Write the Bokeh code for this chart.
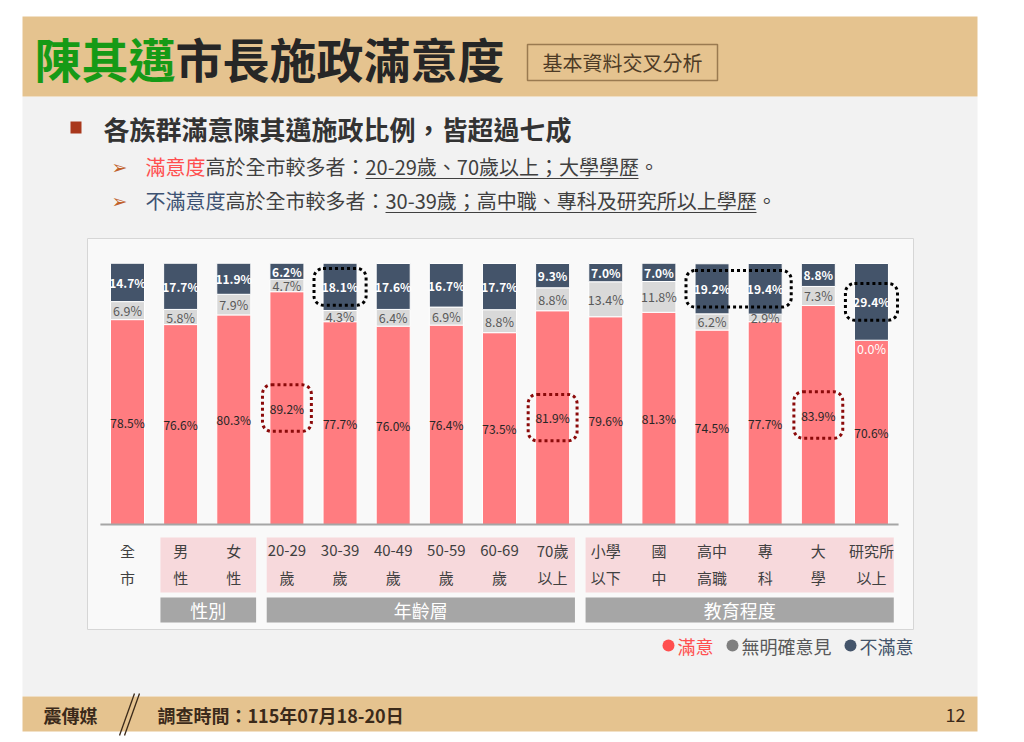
from bokeh.plotting import figure
from bokeh.models import Range1d, BoxAnnotation
from bokeh.core.properties import value
from bokeh.embed import file_html
from bokeh.resources import INLINE

# ---------------- data ----------------
categories = ["全市", "男性", "女性", "20-29歲", "30-39歲", "40-49歲", "50-59歲", "60-69歲",
              "70歲以上", "小學以下", "國中", "高中高職", "專科", "大學", "研究所以上"]
label_top = ["全", "男", "女", "20-29", "30-39", "40-49", "50-59", "60-69", "70歲",
             "小學", "國", "高中", "專", "大", "研究所"]
label_bottom = ["市", "性", "性", "歲", "歲", "歲", "歲", "歲", "以上",
                "以下", "中", "高職", "科", "學", "以上"]
satisfied = [78.5, 76.6, 80.3, 89.2, 77.7, 76.0, 76.4, 73.5, 81.9, 79.6, 81.3, 74.5, 77.7, 83.9, 70.6]
no_opinion = [6.9, 5.8, 7.9, 4.7, 4.3, 6.4, 6.9, 8.8, 8.8, 13.4, 11.8, 6.2, 2.9, 7.3, 0.0]
dissatisfied = [14.7, 17.7, 11.9, 6.2, 18.1, 17.6, 16.7, 17.7, 9.3, 7.0, 7.0, 19.2, 19.4, 8.8, 29.4]
series_names = ["滿意", "無明確意見", "不滿意"]
groups = ["性別", "年齡層", "教育程度"]
group_first = [1, 3, 9]
group_last = [2, 8, 14]
# highlighted (dotted) segments: first bar, last bar, series index
hl_first = [3, 4, 8, 11, 13, 14]
hl_last = [3, 4, 8, 12, 13, 14]
hl_series = [0, 2, 0, 2, 0, 2]

title_green = "陳其邁"
title_rest = "市長施政滿意度"
tag_text = "基本資料交叉分析"
headline = "各族群滿意陳其邁施政比例，皆超過七成"
b1_key, b1_rest = "滿意度", "高於全市較多者：20-29歲、70歲以上；大學學歷。"
b2_key, b2_rest = "不滿意度", "高於全市較多者：30-39歲；高中職、專科及研究所以上學歷。"
footer_brand = "震傳媒"
footer_date = "調查時間：115年07月18-20日"
page_no = "12"

# ---------------- style ----------------
FONT = value("Noto Sans CJK TC")
C_SAT, C_NO, C_DIS = "#ff7c80", "#d9d9d9", "#44546a"
LEG_COLORS = ["#ff4f4f", "#7f7f7f", "#44546a"]
LEG_TEXT = ["#ff4f4f", "#595959", "#44546a"]
TAN = "#e5c38f"

W, H = 1024, 742
X0, DX = 127.0, 53.14      # pixel centre of first bar, spacing
Y0, PXU = 524.0, 2.61      # pixel of 0 %, pixels per percent

p = figure(width=W, height=H, x_range=Range1d(0, W), y_range=Range1d(H, 0),
           output_backend="svg", toolbar_location=None, min_border=0,
           x_axis_type=None, y_axis_type=None, outline_line_color=None,
           background_fill_color="white", border_fill_color="white")
p.grid.visible = False
p.extra_x_ranges = {"idx": Range1d(-X0 / DX, (W - X0) / DX)}
ystart = -(H - Y0) / PXU
p.extra_y_ranges = {"pct": Range1d(ystart, ystart + H / PXU)}


def txt(x, y, t, size, color, style="normal", align="left", font=FONT, **kw):
    p.text(x=[x], y=[y], text=[t], text_font=font, text_font_size=f"{size}px",
           text_font_style=style, text_color=color, text_align=align,
           text_baseline="middle", **kw)


# page background bands
p.quad(left=[22], right=[977], top=[96], bottom=[696], fill_color="#f2f2f2", line_color=None)
p.quad(left=[22], right=[977], top=[16], bottom=[96], fill_color=TAN, line_color=None)
p.quad(left=[22], right=[977], top=[696], bottom=[731], fill_color=TAN, line_color=None)

# title
TFS = 47
txt(34, 57, title_green, TFS, "#169a16", "bold")
txt(34 + TFS * len(title_green), 57, title_rest, TFS, "#262626", "bold")
p.quad(left=[527], right=[717], top=[44], bottom=[80], fill_color=None,
       line_color="#9a7a50", line_width=1.5)
txt(622, 62, tag_text, 20, "#4d3b26", align="center")

# bullets
p.quad(left=[70], right=[81], top=[121], bottom=[133], fill_color="#a9381c", line_color=None)
txt(103, 128, headline, 26, "#333333", "bold")
BFS = 20
for yy in (166, 200):
    txt(111, yy, "➢", 19, "#c0602a", font=value("DejaVu Sans"))
txt(145, 166, b1_key, BFS, "#ff4f4f")
txt(145 + BFS * len(b1_key), 166, b1_rest, BFS, "#404040")
txt(145, 200, b2_key, BFS, "#3d5273")
txt(145 + BFS * len(b2_key), 200, b2_rest, BFS, "#404040")
p.segment(x0=[365, 385], x1=[638, 756], y0=[178, 212], y1=[178, 212],
          line_color="#404040", line_width=1)

# chart panel
p.quad(left=[87], right=[913], top=[238], bottom=[629], fill_color="#f9f9f9",
       line_color="#d6d6d6", line_width=1)

n = len(categories)
idx = list(range(n))
s_top = satisfied
n_top = [a + b for a, b in zip(satisfied, no_opinion)]
d_top = [a + b for a, b in zip(n_top, dissatisfied)]
R = dict(x_range_name="idx", y_range_name="pct")
BW = 0.64
p.vbar(x=idx, bottom=[0] * n, top=s_top, width=BW, fill_color=C_SAT, line_color="white", line_width=1, **R)
p.vbar(x=idx, bottom=s_top, top=n_top, width=BW, fill_color=C_NO, line_color="white", line_width=1, **R)
p.vbar(x=idx, bottom=n_top, top=d_top, width=BW, fill_color=C_DIS, line_color="white", line_width=1, **R)

# baseline
p.segment(x0=[-0.51], x1=[n - 1 + 0.51], y0=[0], y1=[0], line_color="#a6a6a6", line_width=2, **R)

# value labels
sat_c = [v / 2 for v in satisfied]
no_c = [s + v / 2 if v > 0 else s - 3.1 for s, v in zip(s_top, no_opinion)]
no_col = ["#595959" if v > 0 else "white" for v in no_opinion]
dis_c = [b + v / 2 for b, v in zip(n_top, dissatisfied)]
p.text(x=idx, y=sat_c, text=[f"{v:.1f}%" for v in satisfied], text_font=FONT,
       text_font_size="12px", text_color="#262626", text_align="center", text_baseline="middle", **R)
p.text(x=idx, y=no_c, text=[f"{v:.1f}%" for v in no_opinion], text_font=FONT,
       text_font_size="12.5px", text_color=no_col, text_align="center", text_baseline="middle", **R)
p.text(x=idx, y=dis_c, text=[f"{v:.1f}%" for v in dissatisfied], text_font=FONT,
       text_font_size="12px", text_font_style="bold", text_color="white",
       text_align="center", text_baseline="middle", **R)

# highlight boxes
centres = [sat_c, no_c, dis_c]
for f, l, s in zip(hl_first, hl_last, hl_series):
    cs = [centres[s][i] for i in range(f, l + 1)]
    yc = sum(cs) / len(cs)
    hw = 0.46 if s == 0 else 0.49
    hh = 8.9 if s == 0 else 7.0
    p.add_layout(BoxAnnotation(left=f - hw, right=l + hw, bottom=yc - hh, top=yc + hh,
                               fill_alpha=0, line_alpha=1.0,
                               line_color="#8b0a0a" if s == 0 else "black",
                               line_width=3, line_dash="3 3", border_radius=9, **R))

# group bands & category labels
for f, l, g in zip(group_first, group_last, groups):
    p.quad(left=[f - 0.38], right=[l + 0.42], top=[537], bottom=[592],
           fill_color="#f7d9dc", line_color=None, x_range_name="idx")
    p.quad(left=[f - 0.38], right=[l + 0.42], top=[597], bottom=[622],
           fill_color="#a6a6a6", line_color=None, x_range_name="idx")
    p.text(x=[(f + l) / 2 + 0.02], y=[609], text=[g], text_font=FONT, text_font_size="18px",
           text_color="white", text_align="center", text_baseline="middle", x_range_name="idx")
p.text(x=idx, y=[550] * n, text=label_top, text_font=FONT, text_font_size="15px",
       text_color="#404040", text_align="center", text_baseline="middle", x_range_name="idx")
p.text(x=idx, y=[577] * n, text=label_bottom, text_font=FONT, text_font_size="15px",
       text_color="#404040", text_align="center", text_baseline="middle", x_range_name="idx")

# legend
LFS = 18
lx = 677
for name, cc, tc in zip(series_names, LEG_COLORS, LEG_TEXT):
    p.scatter(x=[lx - 9], y=[645], size=12, marker="circle", fill_color=cc, line_color=None)
    txt(lx, 645, name, LFS, tc)
    lx += LFS * len(name) + 28

# footer
txt(43, 714, footer_brand, 18, "#3b2a1a", "bold")
p.segment(x0=[134, 139], x1=[119, 124], y0=[693, 693], y1=[735, 735],
          line_color="#3b2a1a", line_width=1.3)
txt(157, 714, footer_date, 18, "#3b2a1a", "bold")
txt(965, 714, page_no, 18, "#3b2a1a", align="right")

open("out.html", "w").write(file_html(p, INLINE))
